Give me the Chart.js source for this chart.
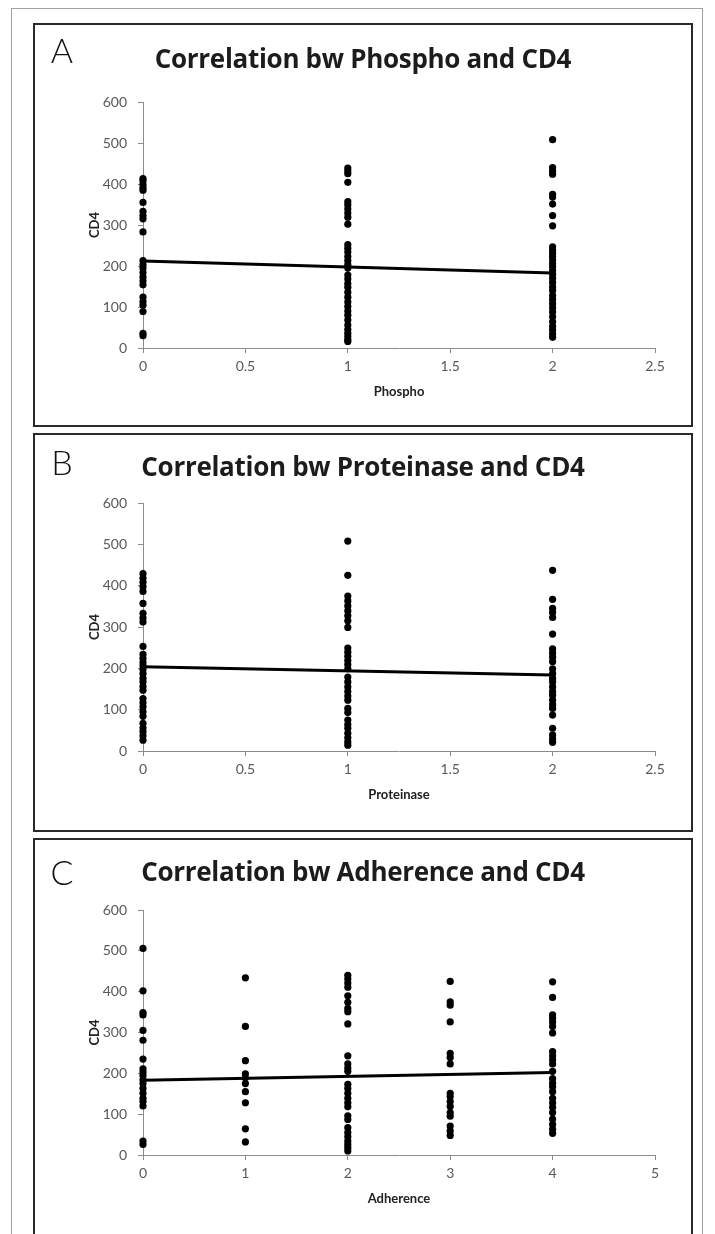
<!DOCTYPE html>
<html>
<head>
<meta charset="utf-8">
<script src="https://cdn.jsdelivr.net/npm/chart.js@4"></script>
<style>
  body { margin: 0; background: #fff; width: 715px; height: 1234px; overflow: hidden; position: relative; font-family: Lato, "Open Sans", sans-serif; }
  .frame { position: absolute; left: 11px; top: 8px; width: 690px; height: 1250px; border: 1px solid #a0a0a0; }
  .panel { position: absolute; left: 33px; width: 656px; border: 2px solid #2a2a2a; background: #fff; }
  .panel canvas { position: absolute; left: 0; top: 0; }
  .letter { position: absolute; left: 12px; width: 30px; text-align: center; font-size: 34px; line-height: 40px; font-weight: 300; color: #111; }
  .title { position: absolute; left: 0; width: 656px; text-align: center; font-family: "Open Sans", Lato, sans-serif; font-size: 26px; line-height: 30px; font-weight: bold; color: #1c1c1c; letter-spacing: -0.3px; }
</style>
</head>
<body>
<div class="frame"></div>

<div class="panel" style="top:23px;height:400px;">
  <canvas id="phosphoChart" width="656" height="400"></canvas>
  <div class="letter" style="top:5px;">A</div>
  <div class="title" style="top:18px;">Correlation bw Phospho and CD4</div>
</div>

<div class="panel" style="top:433px;height:395px;">
  <canvas id="proteinaseChart" width="656" height="395"></canvas>
  <div class="letter" style="top:7px;">B</div>
  <div class="title" style="top:16px;">Correlation bw Proteinase and CD4</div>
</div>

<div class="panel" style="top:838px;height:400px;">
  <canvas id="adherenceChart" width="656" height="400"></canvas>
  <div class="letter" style="top:12px;">C</div>
  <div class="title" style="top:16px;">Correlation bw Adherence and CD4</div>
</div>

<script>
// CD4 counts
const phosphoLevels = [0, 1, 2];
const phospho0 = [413, 408, 399, 391, 385, 355, 333, 323, 315, 283, 213, 203, 195, 184, 173, 164, 154, 124, 113, 104, 89, 36, 30];
const phospho1 = [439, 432, 425, 404, 357, 349, 339, 329, 319, 302, 252, 243, 234, 223, 213, 203, 195, 178, 168, 157, 148, 136, 124, 112, 101, 90, 80, 68, 56, 45, 36, 28, 20, 16];
const phospho2 = [508, 440, 432, 424, 375, 368, 351, 323, 298, 247, 239, 231, 223, 215, 206, 198, 189, 180, 170, 160, 149, 140, 128, 118, 108, 98, 88, 76, 64, 53, 44, 34, 26];
const phosphoTrend = [212, 183];

const proteinaseLevels = [0, 1, 2];
const proteinase0 = [429, 418, 408, 398, 386, 357, 333, 322, 312, 253, 234, 224, 214, 206, 197, 187, 176, 167, 156, 147, 127, 117, 107, 95, 84, 67, 56, 47, 37, 26];
const proteinase1 = [508, 425, 375, 363, 351, 339, 327, 315, 299, 249, 239, 229, 219, 209, 199, 179, 167, 155, 144, 133, 123, 103, 93, 75, 64, 55, 43, 32, 22, 14];
const proteinase2 = [437, 367, 345, 335, 323, 283, 247, 237, 227, 216, 199, 187, 176, 167, 155, 144, 135, 123, 112, 103, 87, 55, 39, 29, 21];
const proteinaseTrend = [204, 184];

const adherenceLevels = [0, 1, 2, 3, 4];
const adherence0 = [506, 402, 349, 343, 305, 281, 235, 211, 203, 195, 184, 175, 163, 151, 139, 131, 120, 34, 26];
const adherence1 = [434, 315, 231, 199, 189, 175, 155, 128, 64, 32];
const adherence2 = [440, 431, 421, 411, 390, 374, 359, 351, 321, 243, 223, 213, 205, 173, 163, 151, 139, 128, 118, 96, 87, 67, 55, 45, 34, 26, 18, 10];
const adherence3 = [425, 375, 367, 326, 249, 239, 223, 151, 143, 131, 119, 104, 95, 71, 59, 48];
const adherence4 = [424, 386, 343, 335, 326, 315, 299, 253, 243, 233, 223, 205, 187, 176, 167, 155, 139, 128, 117, 104, 88, 75, 63, 53];
const adherenceTrend = [183, 202];

const yTicks = [0, 100, 200, 300, 400, 500, 600];
const axisGrey = "#8c8c8c";
const labelGrey = "#595959";
const fontFamily = "Lato, 'Open Sans', sans-serif";

function toPoints(levels, columns) {
  let points = [];
  levels.forEach((level, i) => {
    columns[i].forEach(v => points.push({ x: level, y: v }));
  });
  return points;
}

function createPanelChart(canvasId, opts) {
  const points = toPoints(opts.levels, opts.columns);
  const firstLevel = opts.levels[0];
  const lastLevel = opts.levels[opts.levels.length - 1];

  new Chart(document.getElementById(canvasId).getContext("2d"), {
    type: "scatter",
    data: {
      datasets: [{
        data: points,
        backgroundColor: "#000",
        borderColor: "#000",
        pointRadius: 3.6,
        pointBorderWidth: 0,
        clip: false,
        order: 2,
      }, {
        type: "line",
        data: [{ x: firstLevel, y: opts.trend[0] }, { x: lastLevel, y: opts.trend[1] }],
        borderColor: "#000",
        borderWidth: 3,
        pointRadius: 0,
        fill: false,
        clip: false,
        order: 1,
      }],
    },
    options: {
      responsive: false,
      animation: false,
      events: [],
      layout: {
        padding: { top: opts.top, left: 48, right: 36, bottom: opts.bottom },
      },
      plugins: {
        legend: { display: false },
        tooltip: { enabled: false },
      },
      scales: {
        x: {
          type: "linear",
          min: 0,
          max: opts.xMax,
          afterFit: scale => { scale.height = 60; },
          ticks: {
            stepSize: opts.xStep,
            color: labelGrey,
            padding: 5,
            font: { family: fontFamily, size: 14 },
            callback: v => String(v),
          },
          grid: { drawOnChartArea: false, tickLength: 5, color: axisGrey },
          border: { color: axisGrey },
          title: { display: true, text: opts.xTitle, color: "#222", padding: { top: 0, bottom: 8 }, font: { family: fontFamily, size: 13, weight: "bold" } },
        },
        y: {
          min: 0,
          max: 600,
          afterFit: scale => { scale.width = 60; },
          afterBuildTicks: scale => { scale.ticks = yTicks.map(v => ({ value: v })); },
          ticks: { color: labelGrey, padding: 11, font: { family: fontFamily, size: 14 } },
          grid: { drawOnChartArea: false, tickLength: 5, color: axisGrey },
          border: { color: axisGrey },
          title: { display: true, text: "CD4", color: "#222", padding: { top: 4, bottom: 0 }, font: { family: fontFamily, size: 13, weight: "bold" } },
        },
      },
    },
  });
}

window.addEventListener("DOMContentLoaded", function() {
  createPanelChart("phosphoChart", {
    levels: phosphoLevels,
    columns: [phospho0, phospho1, phospho2],
    trend: phosphoTrend,
    xMax: 2.5, xStep: 0.5, xTitle: "Phospho",
    top: 77, bottom: 17,
  });
  createPanelChart("proteinaseChart", {
    levels: proteinaseLevels,
    columns: [proteinase0, proteinase1, proteinase2],
    trend: proteinaseTrend,
    xMax: 2.5, xStep: 0.5, xTitle: "Proteinase",
    top: 68, bottom: 19,
  });
  createPanelChart("adherenceChart", {
    levels: adherenceLevels,
    columns: [adherence0, adherence1, adherence2, adherence3, adherence4],
    trend: adherenceTrend,
    xMax: 5, xStep: 1, xTitle: "Adherence",
    top: 70, bottom: 25,
  });
});
</script>
</body>
</html>
